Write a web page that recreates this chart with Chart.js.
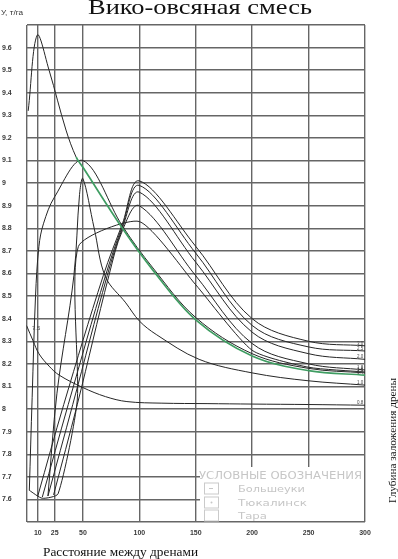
<!DOCTYPE html>
<html>
<head>
<meta charset="utf-8">
<script src="https://cdn.jsdelivr.net/npm/chart.js@4.4.1/dist/chart.umd.min.js"></script>
<style>
  html, body { margin: 0; padding: 0; background: #fff; }
</style>
</head>
<body>
<canvas id="chart" width="398" height="559"></canvas>
<script>
const xTicks = [0, 10, 25, 50, 100, 150, 200, 250, 300];
const yTicks = [7.5, 7.6, 7.7, 7.8, 7.9, 8.0, 8.1, 8.2, 8.3, 8.4, 8.5, 8.6, 8.7, 8.8, 8.9, 9.0, 9.1, 9.2, 9.3, 9.4, 9.5, 9.6, 9.7];

// yield (t/ha) vs spacing between drains, one curve per drain depth
const tallX = [1.5, 9.5, 20, 35, 44, 50, 85, 112, 150, 200, 250, 300];
const tallY = [9.32, 9.655, 9.50, 9.235, 9.115, 9.07, 8.80, 8.615, 8.395, 8.235, 8.17, 8.15];

const peak50aX = [2.5, 5, 8, 11, 15, 25, 50, 85, 112, 150, 200, 250, 300];
const peak50aY = [7.64, 8.05, 8.5, 8.72, 8.82, 8.94, 9.1, 8.81, 8.625, 8.405, 8.245, 8.18, 8.16];

const peak50bX = [19, 27, 42, 47, 50, 60, 70, 88, 100, 115, 153, 200, 250, 300];
const peak50bY = [7.615, 8.07, 8.59, 8.95, 9.02, 8.80, 8.585, 8.47, 8.39, 8.33, 8.22, 8.16, 8.125, 8.106];

const kinkX = [2.5, 14, 28, 45, 46, 100, 150, 200, 250, 300];
const kinkY = [7.64, 7.605, 7.625, 8.04, 8.72, 8.83, 8.55, 8.26, 8.185, 8.164];

const p1X = [10, 33, 68, 85, 100, 150, 200, 250, 300];
const p1Y = [7.615, 8.02, 8.59, 8.82, 9.01, 8.72, 8.40, 8.30, 8.28];
const p2X = [14, 37, 70, 85, 100, 150, 200, 250, 300];
const p2Y = [7.61, 8.02, 8.59, 8.81, 8.99, 8.69, 8.37, 8.275, 8.257];
const p3X = [19, 41, 71.5, 85, 100, 150, 200, 250, 300];
const p3Y = [7.615, 8.02, 8.59, 8.80, 8.96, 8.65, 8.34, 8.245, 8.22];
const p4X = [24, 45, 73, 85, 100, 150, 200, 250, 300];
const p4Y = [7.62, 8.02, 8.59, 8.79, 8.90, 8.59, 8.29, 8.20, 8.173];

const lowX = [0, 6, 11, 20, 29, 50, 70, 89, 120, 160, 200, 250, 300];
const lowY = [8.37, 8.30, 8.245, 8.19, 8.15, 8.095, 8.055, 8.033, 8.026, 8.024, 8.022, 8.02, 8.017];

const endLabels = ['1.4', '1.2', '1.0', '1.6', '3.0', '2.5', '2.0', '1.8', '0.8'];
const legendTitle = 'УСЛОВНЫЕ ОБОЗНАЧЕНИЯ';
const legendLabels = ['Большеуки', 'Тюкалинск', 'Тара'];

const curves = [
  [tallX, tallY], [peak50aX, peak50aY], [peak50bX, peak50bY], [kinkX, kinkY],
  [p1X, p1Y], [p2X, p2Y], [p3X, p3Y], [p4X, p4Y], [lowX, lowY]
];

const lineColor = '#262626';
const green = '#3f9d62';
const gridColor = '#666';

const datasets = curves.map(([xs, ys], i) => ({
  data: xs.map((x, j) => ({ x: x, y: ys[j] })),
  showLine: true,
  borderColor: lineColor,
  borderWidth: 1,
  pointRadius: 0,
  tension: i === 3 ? 0.2 : 0.35,
  segment: i === 0 ? {
    borderColor: c => c.p0.parsed.x >= 44 ? green : lineColor,
    borderWidth: c => c.p0.parsed.x >= 44 ? 1.7 : 1
  } : undefined
}));

function fitText(ctx, text, x, y, w) {
  const m = ctx.measureText(text).width;
  ctx.save();
  ctx.translate(x, y);
  ctx.scale(w / m, 1);
  ctx.textAlign = 'left';
  ctx.fillText(text, 0, 0);
  ctx.restore();
}

const decor = {
  id: 'decor',
  afterDatasetsDraw(chart) {
    const { ctx } = chart;
    const xs = chart.scales.x, ys = chart.scales.y;
    ctx.save();
    ctx.textBaseline = 'alphabetic';

    // title and axis captions
    ctx.fillStyle = '#111';
    ctx.font = '21px "Liberation Serif"';
    fitText(ctx, 'Вико-овсяная смесь', 88, 14, 224);
    ctx.font = '6.5px "Liberation Sans"';
    ctx.fillStyle = '#333';
    fitText(ctx, 'У, т/га', 1, 15, 22);
    ctx.fillStyle = '#111';
    ctx.font = '12.5px "Liberation Serif"';
    fitText(ctx, 'Расстояние между дренами', 43, 556, 155);
    ctx.save();
    ctx.translate(396, 503);
    ctx.rotate(-Math.PI / 2);
    ctx.font = '11px "Liberation Serif"';
    fitText(ctx, 'Глубина заложения дрены', 0, 0, 125);
    ctx.restore();

    // depth labels
    ctx.fillStyle = '#444';
    ctx.font = '4.5px "Liberation Sans"';
    curves.forEach(([cx, cy], i) => {
      const py = ys.getPixelForValue(cy[cy.length - 1]);
      ctx.fillText(endLabels[i], xs.getPixelForValue(300) - 8, py - 1);
    });
    ctx.font = '6px "Liberation Sans"';
    ctx.fillText('7.5', 32, 330);

    // legend block
    ctx.fillStyle = '#fff';
    ctx.fillRect(200, 467, 164, 54);
    ctx.fillStyle = '#c6c6c6';
    ctx.strokeStyle = '#cacaca';
    ctx.lineWidth = 1;
    ctx.font = '10px "DejaVu Sans"';
    fitText(ctx, legendTitle, 199, 479, 163);
    const rows = [488.5, 502.5, 515.5];
    ctx.font = '9.5px "DejaVu Sans"';
    const widths = [67, 69, 29];
    legendLabels.forEach((t, i) => {
      ctx.strokeRect(204.5, rows[i] - 5.5, 14, 11);
      fitText(ctx, t, 238, rows[i] + 3.5, widths[i]);
    });
    ctx.fillRect(209, rows[0] - 0.5, 4, 1);
    ctx.beginPath();
    ctx.arc(211.5, rows[1], 1, 0, Math.PI * 2);
    ctx.fill();
    ctx.restore();
  }
};

new Chart(document.getElementById('chart'), {
  type: 'scatter',
  data: { datasets: datasets },
  options: {
    responsive: false,
    animation: false,
    devicePixelRatio: 1,
    layout: { padding: { left: 2, top: 25, right: 33, bottom: 0 } },
    plugins: { legend: { display: false }, tooltip: { enabled: false } },
    scales: {
      x: {
        type: 'linear', min: 0, max: 300,
        afterBuildTicks: s => { s.ticks = xTicks.map(v => ({ value: v })); },
        afterFit: s => { s.height = 37; },
        grid: { color: gridColor, lineWidth: 1.4, drawTicks: false },
        border: { display: false },
        ticks: {
          autoSkip: false, maxRotation: 0, padding: 7, color: '#3a3a3a',
          font: { family: 'Liberation Sans', size: 7, weight: 'bold' },
          callback: v => v === 0 ? '' : String(v)
        }
      },
      y: {
        type: 'linear', min: 7.5, max: 9.7,
        afterBuildTicks: s => { s.ticks = yTicks.map(v => ({ value: v })); },
        afterFit: s => { s.width = 24.5; },
        grid: { color: gridColor, lineWidth: 1.4, drawTicks: false },
        border: { display: false },
        ticks: {
          crossAlign: 'far', padding: 4, color: '#3a3a3a',
          font: { family: 'Liberation Sans', size: 7, weight: 'bold' },
          callback: (v, i) => (i === 0 || i === yTicks.length - 1) ? '' : String(yTicks[i])
        }
      }
    }
  },
  plugins: [decor]
});
</script>
</body>
</html>
